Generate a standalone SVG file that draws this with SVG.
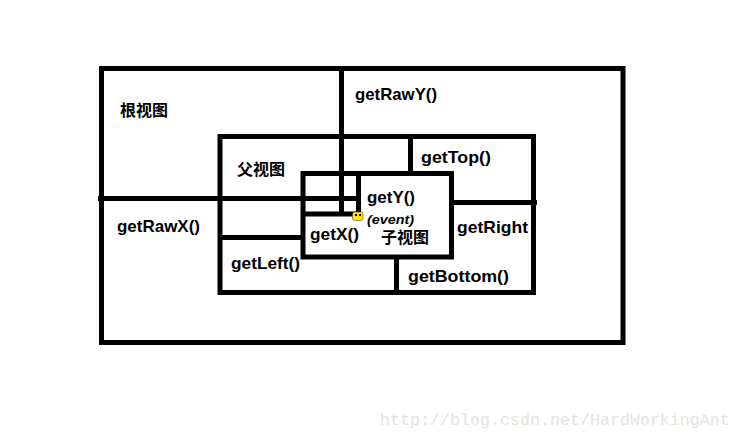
<svg xmlns="http://www.w3.org/2000/svg" width="741" height="438" viewBox="0 0 741 438">
<style>
.b{fill:none;stroke:#000;stroke-width:5}
.l{stroke:#000;stroke-width:5;fill:none}
.t{font-family:"Liberation Sans","Noto Sans CJK SC",sans-serif;font-size:16.6px;font-weight:bold;fill:#000}
.c{font-size:16px}
.e{font-size:12.5px;font-style:italic}
.w{font-family:"Liberation Mono","DejaVu Sans Mono",monospace;font-size:16.67px;fill:#e4e4dc}
</style>
<rect width="741" height="438" fill="#fff"/>
<g id="root"><rect class="b" x="101.5" y="68.5" width="521.5" height="274"/><text class="t c" x="120" y="116">根视图</text></g>
<g id="parent"><rect class="b" x="220" y="136.5" width="313.5" height="156"/><text class="t c" x="237" y="175">父视图</text></g>
<g id="child"><rect class="b" x="303" y="173.5" width="148.5" height="83.5"/><text class="t c" x="381" y="243">子视图</text></g>
<g id="connectors">
<path class="l" d="M341.5 69V216"/>
<path class="l" d="M98 198.5H358"/>
<path class="l" d="M358.5 174V212"/>
<path class="l" d="M303 214H356"/>
<path class="l" d="M220 237.5H303"/>
<path class="l" d="M410.5 137V174"/>
<path class="l" d="M451 202.5H537"/>
<path class="l" d="M396.5 255V292"/>
</g>
<g id="labels">
<text class="t" x="355" y="100" textLength="82" lengthAdjust="spacingAndGlyphs">getRawY()</text>
<text class="t" x="421" y="163" textLength="70" lengthAdjust="spacingAndGlyphs">getTop()</text>
<text class="t" x="367" y="203" textLength="48" lengthAdjust="spacingAndGlyphs">getY()</text>
<text class="t e" x="367" y="224" textLength="47" lengthAdjust="spacingAndGlyphs">(event)</text>
<text class="t" x="457" y="233" textLength="71" lengthAdjust="spacingAndGlyphs">getRight</text>
<text class="t" x="117" y="232" textLength="83" lengthAdjust="spacingAndGlyphs">getRawX()</text>
<text class="t" x="310" y="240" textLength="49" lengthAdjust="spacingAndGlyphs">getX()</text>
<text class="t" x="231" y="269" textLength="69" lengthAdjust="spacingAndGlyphs">getLeft()</text>
<text class="t" x="408" y="282" textLength="101" lengthAdjust="spacingAndGlyphs">getBottom()</text>
</g>
<g id="pointer">
<rect x="352.5" y="212" width="10.5" height="8.5" rx="2" fill="#ffe600" stroke="#333" stroke-width="0.5"/>
<rect x="355" y="214" width="2" height="2" fill="#000"/><rect x="359" y="214" width="2" height="2" fill="#000"/>
</g>
<text class="w" x="380" y="425">http://blog.csdn.net/HardWorkingAnt</text>
</svg>
